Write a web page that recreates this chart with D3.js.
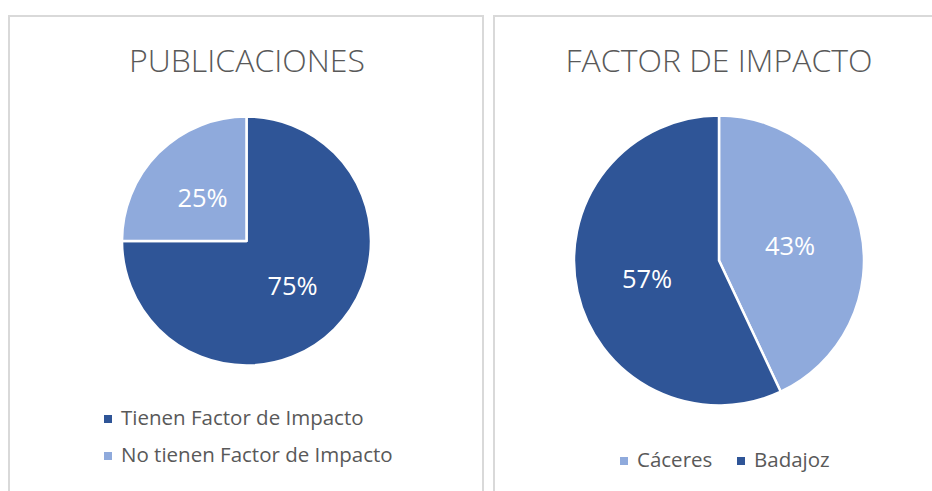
<!DOCTYPE html>
<html>
<head>
<meta charset="utf-8">
<script src="https://cdn.jsdelivr.net/npm/d3@7"></script>
<style>
  html, body { margin: 0; padding: 0; background: #fff; }
  svg { display: block; }
  text { font-family: "Open Sans", "Noto Sans", sans-serif; }
</style>
</head>
<body>
<svg id="chart" width="932" height="491"></svg>
<script>
// ---- data ----
const pubCategories = ["Tienen Factor de Impacto", "No tienen Factor de Impacto"];
const pubValues = [75, 25];
const impCategories = ["Cáceres", "Badajoz"];
const impValues = [43, 57];
const titles = ["PUBLICACIONES", "FACTOR DE IMPACTO"];

const dark = "#2F5597", light = "#8FAADC";
const textGray = "#595959";

const svg = d3.select("#chart");

// panel frames
svg.append("rect").attr("x", 9).attr("y", 16).attr("width", 474).attr("height", 490)
  .attr("fill", "none").attr("stroke", "#D9D9D9").attr("stroke-width", 2);
svg.append("rect").attr("x", 494).attr("y", 16).attr("width", 460).attr("height", 490)
  .attr("fill", "none").attr("stroke", "#D9D9D9").attr("stroke-width", 2);

function drawPie(cfg) {
  const g = svg.append("g").attr("transform", `translate(${cfg.cx},${cfg.cy})`);
  const pie = d3.pie().sort(null).value(d => d.v);
  const data = cfg.cats.map((c, i) => ({c, v: cfg.vals[i], color: cfg.colors[i]}));
  const arcs = pie(data);
  const arc = d3.arc().innerRadius(0).outerRadius(cfg.r);
  g.selectAll("path").data(arcs).join("path")
    .attr("d", arc).attr("fill", d => d.data.color)
    .attr("stroke", "#fff").attr("stroke-width", 2.5).attr("stroke-linejoin", "round");
  const total = d3.sum(cfg.vals);
  g.selectAll("text.lbl").data(arcs).join("text").attr("class", "lbl")
    .attr("x", (d, i) => cfg.labelPos[i][0]).attr("y", (d, i) => cfg.labelPos[i][1])
    .attr("text-anchor", "middle").attr("fill", "#fff").attr("font-size", 25.5)
    .text(d => Math.round(d.data.v / total * 100) + "%");
  svg.append("text").attr("x", cfg.tx).attr("y", 72).attr("text-anchor", "middle")
    .attr("fill", textGray).attr("font-size", 32).attr("font-weight", 300)
    .text(cfg.title);
}

drawPie({cx: 246.5, cy: 241, r: 124.5, cats: pubCategories, vals: pubValues,
  colors: [dark, light], labelPos: [[46, 54], [-44, -34]], title: titles[0], tx: 247});
drawPie({cx: 719, cy: 260.5, r: 145, cats: impCategories, vals: impValues,
  colors: [light, dark], labelPos: [[71, -6], [-72, 27]], title: titles[1], tx: 719});

// legend left (vertical)
const legL = svg.append("g");
pubCategories.forEach((c, i) => {
  const y = 425 + i * 37;
  legL.append("rect").attr("x", 104).attr("y", y - 10).attr("width", 8).attr("height", 8)
    .attr("fill", [dark, light][i]);
  legL.append("text").attr("x", 121).attr("y", y).attr("fill", textGray)
    .attr("font-size", 20.5).text(c);
});

// legend right (horizontal)
const legR = svg.append("g");
const legX = [620, 737];
impCategories.forEach((c, i) => {
  legR.append("rect").attr("x", legX[i]).attr("y", 457).attr("width", 8).attr("height", 8)
    .attr("fill", [light, dark][i]);
  legR.append("text").attr("x", legX[i] + 17).attr("y", 467).attr("fill", textGray)
    .attr("font-size", 20.5).text(c);
});
</script>
</body>
</html>
